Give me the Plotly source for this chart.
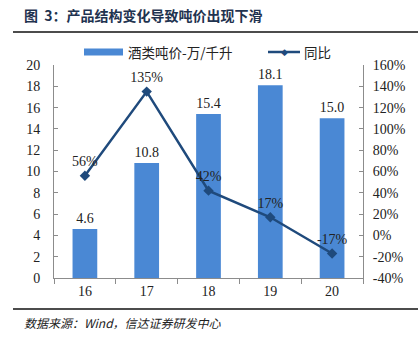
import plotly.graph_objects as go

# Data
years = ["16", "17", "18", "19", "20"]
price = [4.6, 10.8, 15.4, 18.1, 15.0]          # 酒类吨价 (万/千升)
yoy = [56, 135, 42, 17, -17]                    # 同比 (%)
left_ticks = list(range(0, 21, 2))
right_ticks = list(range(-40, 161, 20))
right_labels = [f"{v}%" for v in right_ticks]

BAR = "#4A88D4"
LINE = "#1F4A7C"
AXIS = "#8C8C8C"
SERIF = "'Times New Roman', 'Liberation Serif', 'DejaVu Serif', serif"
CJK = "'Noto Sans CJK SC', sans-serif"

fig = go.Figure()

fig.add_trace(go.Bar(
    x=years, y=price, name="酒类吨价-万/千升",
    marker=dict(color=BAR, line=dict(width=0)),
    width=0.4,
    text=[f"{v:.1f}" for v in price], textposition="outside",
    textfont=dict(family=SERIF, size=14, color="#222"),
    cliponaxis=False, showlegend=False,
))

fig.add_trace(go.Scatter(
    x=years, y=yoy, name="同比", yaxis="y2",
    mode="lines+markers+text",
    line=dict(color=LINE, width=2.5),
    marker=dict(symbol="diamond", size=8, color=LINE),
    text=[f"{v}%" for v in yoy], textposition="top center",
    textfont=dict(family=SERIF, size=14, color="#222"),
    cliponaxis=False, showlegend=False,
))

fig.update_layout(
    width=419, height=346,
    margin=dict(l=54, r=56, t=65, b=68),
    paper_bgcolor="white", plot_bgcolor="white",
    font=dict(family=SERIF, size=14, color="#222"),
    bargap=0.6,
    xaxis=dict(
        showline=True, linecolor=AXIS, linewidth=1,
        ticks="outside", tickson="boundaries", ticklen=5, tickcolor=AXIS,
        tickfont=dict(family=SERIF, size=14, color="#222"),
        showgrid=False,
    ),
    yaxis=dict(
        range=[0, 20], tickvals=left_ticks,
        showline=True, linecolor=AXIS, linewidth=1,
        ticks="inside", ticklen=4, tickcolor=AXIS,
        tickfont=dict(family=SERIF, size=14, color="#222"),
        ticklabelstandoff=10,
        showgrid=False, zeroline=False,
    ),
    yaxis2=dict(
        range=[-40, 160], tickvals=right_ticks, ticktext=right_labels,
        overlaying="y", side="right",
        showline=True, linecolor=AXIS, linewidth=1,
        ticks="inside", ticklen=4, tickcolor=AXIS,
        tickfont=dict(family=SERIF, size=14, color="#222"),
        ticklabelstandoff=6,
        showgrid=False, zeroline=False,
    ),
    shapes=[
        # rule under the title and above the source note
        dict(type="line", xref="paper", yref="paper",
             x0=-41 / 309, x1=364 / 309, y0=(278 - 32) / 213, y1=(278 - 32) / 213,
             line=dict(color="#111", width=1.5)),
        dict(type="line", xref="paper", yref="paper",
             x0=-41 / 309, x1=364 / 309, y0=(278 - 309) / 213, y1=(278 - 309) / 213,
             line=dict(color="#111", width=1.5)),
        # legend swatches
        dict(type="rect", xref="paper", yref="paper",
             x0=(84 - 54) / 309, x1=(123 - 54) / 309,
             y0=(278 - 55.5) / 213, y1=(278 - 48.5) / 213,
             fillcolor=BAR, line=dict(width=0)),
        dict(type="line", xref="paper", yref="paper",
             x0=(268 - 54) / 309, x1=(300 - 54) / 309,
             y0=(278 - 52) / 213, y1=(278 - 52) / 213,
             line=dict(color=LINE, width=2.5)),
    ],
    annotations=[
        dict(text="<b>图  3：产品结构变化导致吨价出现下滑</b>", xref="paper", yref="paper",
             x=(22 - 54) / 309, y=(278 - 15) / 213, xanchor="left", yanchor="middle",
             showarrow=False, font=dict(family=CJK, size=14, color="#1F3350")),
        dict(text="<i>数据来源：Wind，信达证券研发中心</i>", xref="paper", yref="paper",
             x=(22 - 54) / 309, y=(278 - 322) / 213, xanchor="left", yanchor="middle",
             showarrow=False, font=dict(family=CJK, size=12, color="#222")),
        dict(text="酒类吨价-万/千升", xref="paper", yref="paper",
             x=(126 - 54) / 309, y=(278 - 52) / 213, xanchor="left", yanchor="middle",
             showarrow=False, font=dict(family=CJK, size=13.5, color="#222")),
        dict(text="同比", xref="paper", yref="paper",
             x=(302 - 54) / 309, y=(278 - 52) / 213, xanchor="left", yanchor="middle",
             showarrow=False, font=dict(family=CJK, size=13.5, color="#222")),
        dict(text="◆", xref="paper", yref="paper",
             x=(284 - 54) / 309, y=(278 - 52) / 213, xanchor="center", yanchor="middle",
             showarrow=False, font=dict(family="DejaVu Sans", size=9, color=LINE)),
    ],
)

fig.write_html("out.html")
